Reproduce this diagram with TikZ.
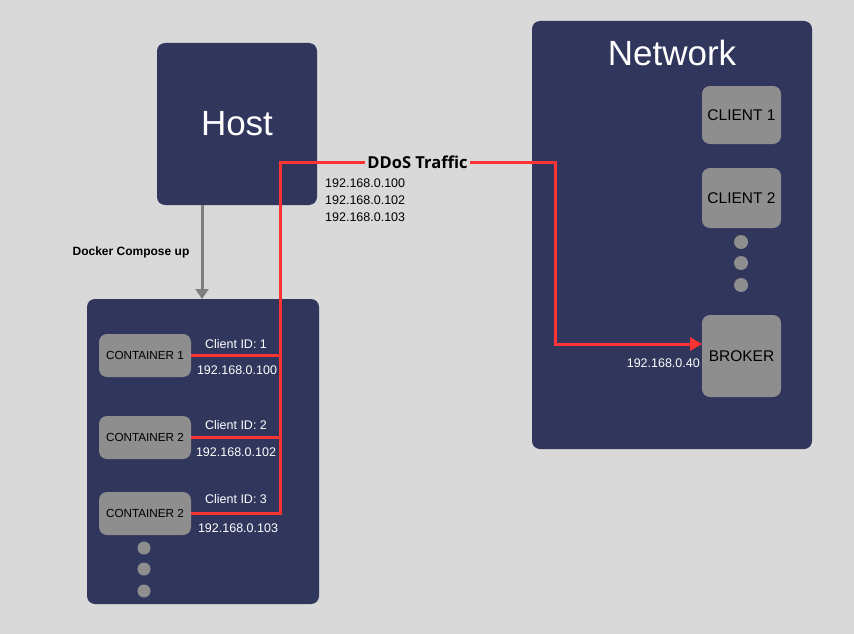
\documentclass[tikz,border=0pt]{standalone}
\usepackage{fontspec}
\setmainfont{Liberation Sans}
\newfontfamily\ddosfont{Open Sans}
\usetikzlibrary{positioning, calc, arrows.meta}

\definecolor{bgray}{HTML}{D9D9D9}
\definecolor{navy}{HTML}{31365C}
\definecolor{boxgray}{HTML}{8E8E8E}
\definecolor{ddosred}{HTML}{FF3333}
\definecolor{arrowgray}{HTML}{7F7F7F}

\tikzset{
    panel/.style={fill=navy, rounded corners=8pt, inner sep=0pt},
    unit/.style={fill=boxgray, rounded corners=8pt, inner sep=0pt, text=black, align=center},
    ddos/.style={draw=ddosred, line width=3pt},
    iplabel/.style={inner sep=0pt, font=\fontsize{12.5}{15}\selectfont}
}

\begin{document}
\begin{tikzpicture}[x=1pt, y=-1pt]
        % the background
        \fill[bgray] (0,0) rectangle (854,634);

        % host and network
        \node[panel, minimum width=160pt, minimum height=162pt, text=white,
              font=\fontsize{35}{40}\selectfont] (host) at (237,124) {Host};
        \node[panel, minimum width=280pt, minimum height=428pt] (network) at (672,235) {};
        \node[text=white, inner sep=0pt, font=\fontsize{35}{40}\selectfont] (nettitle) at (672,53) {Network};

        \node[unit, minimum width=79pt, minimum height=58pt, font=\fontsize{15.5}{18}\selectfont] (client1) at (741.5,115) {CLIENT 1};
        \node[unit, minimum width=79pt, minimum height=60pt, font=\fontsize{15.5}{18}\selectfont] (client2) at (741.5,198) {CLIENT 2};
        \node[unit, minimum width=79pt, minimum height=82pt, font=\fontsize{15.5}{18}\selectfont] (broker) at (741.5,356) {BROKER};
        \foreach \y in {242,263,285}
            \fill[boxgray] (741,\y) circle (7pt);

        % the containers
        \node[panel, minimum width=232pt, minimum height=305pt] (compose) at (203,451.5) {};
        \node[unit, minimum width=92pt, minimum height=43pt, font=\fontsize{11.7}{14}\selectfont] (con1) at (145,355.5) {CONTAINER 1};
        \node[unit, minimum width=92pt, minimum height=43pt, font=\fontsize{11.7}{14}\selectfont] (con2) at (145,437.5) {CONTAINER 2};
        \node[unit, minimum width=92pt, minimum height=43pt, font=\fontsize{11.7}{14}\selectfont] (con3) at (145,513.5) {CONTAINER 2};
        \foreach \y in {548,569,591}
            \fill[boxgray] (144,\y) circle (6.5pt);

        % docker compose arrow
        \coordinate (upfrom) at (202,205);
        \coordinate (upto) at (202,299);
        \draw[arrowgray, line width=3pt, -{Triangle[length=10pt, width=13pt]}] (upfrom) -- (upto);
        \node[inner sep=0pt, font=\bfseries\fontsize{12}{14}\selectfont] (composeup) at (131,252) {Docker Compose up};

        % ddos traffic
        \node[inner sep=0pt, font=\ddosfont\bfseries\fontsize{16.5}{19}\selectfont] (traffic) at (417.5,162) {DDoS Traffic};
        \coordinate (bend) at (280,162);
        \coordinate (turn) at (555,344);
        \coordinate (hit) at (702,344);
        \draw[ddos] (con1.east) -- (con1.east -| bend);
        \draw[ddos] (con2.east) -- (con2.east -| bend);
        \draw[ddos] (con3.east) -| (bend) -- ([xshift=-2pt]traffic.west);
        \draw[ddos, -{Triangle[length=12pt, width=13pt]}] ([xshift=2pt]traffic.east) -| (turn) -- (hit);

        % addresses
        \node[iplabel, anchor=west] (ip100) at (325,183) {192.168.0.100};
        \node[iplabel, anchor=west] (ip102) at (325,200) {192.168.0.102};
        \node[iplabel, anchor=west] (ip103) at (325,217) {192.168.0.103};
        \node[iplabel, anchor=east, text=white] (ipbroker) at (700,363) {192.168.0.40};

        \node[iplabel, text=white] (id1) at (236,344) {Client ID: 1};
        \node[iplabel, text=white] (addr1) at (237,370) {192.168.0.100};
        \node[iplabel, text=white] (id2) at (236,425) {Client ID: 2};
        \node[iplabel, text=white] (addr2) at (236,452) {192.168.0.102};
        \node[iplabel, text=white] (id3) at (236,499) {Client ID: 3};
        \node[iplabel, text=white] (addr3) at (238,528) {192.168.0.103};
\end{tikzpicture}
\end{document}
